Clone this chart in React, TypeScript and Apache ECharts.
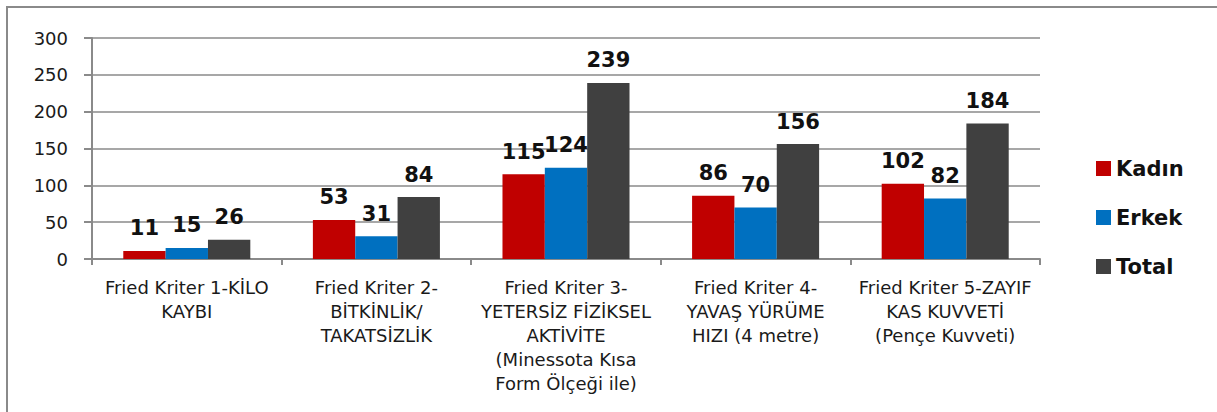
import React, { useEffect, useRef } from "react";
import * as echarts from "echarts";

const categories = [
  "Fried Kriter 1-KİLO\nKAYBI",
  "Fried Kriter 2-\nBİTKİNLİK/\nTAKATSİZLİK",
  "Fried Kriter 3-\nYETERSİZ FİZİKSEL\nAKTİVİTE\n(Minessota Kısa\nForm Ölçeği ile)",
  "Fried Kriter 4-\nYAVAŞ YÜRÜME\nHIZI (4 metre)",
  "Fried Kriter 5-ZAYIF\nKAS KUVVETİ\n(Pençe Kuvveti)",
];
const kadin = [11, 53, 115, 86, 102];
const erkek = [15, 31, 124, 70, 82];
const total = [26, 84, 239, 156, 184];
const seriesNames = ["Kadın", "Erkek", "Total"];
const colors = ["#C00000", "#0070C0", "#404040"];

export default function App() {
  const ref = useRef<HTMLDivElement>(null);
  useEffect(() => {
    if (!ref.current) return;
    const chart = echarts.init(ref.current, null, { renderer: "svg" });
    const font = "DejaVu Sans";
    const labelStyle = {
      show: true,
      position: "top" as const,
      distance: 12,
      fontFamily: font,
      fontWeight: "bold" as const,
      fontSize: 21,
      color: "#111",
    };
    const data = [kadin, erkek, total];
    chart.setOption({
      animation: false,
      backgroundColor: "#fff",
      graphic: [
        {
          type: "rect",
          shape: { x: 7, y: 7, width: 1230, height: 430 },
          style: { fill: "none", stroke: "#8a8a8a", lineWidth: 2 },
          silent: true,
        },
      ],
      grid: { left: 92, right: 177, top: 38, bottom: 153, containLabel: false },
      legend: {
        orient: "vertical",
        left: 1091,
        top: 153,
        itemWidth: 15,
        itemHeight: 15,
        itemGap: 28,
        icon: "rect",
        data: seriesNames,
        textStyle: {
          fontFamily: font,
          fontWeight: "bold",
          fontSize: 21,
          lineHeight: 21,
          color: "#111",
        },
      },
      xAxis: {
        type: "category",
        data: categories,
        axisLine: { lineStyle: { color: "#8a8a8a", width: 2 } },
        axisTick: { show: true, length: 6, lineStyle: { color: "#8a8a8a", width: 2 } },
        axisLabel: {
          interval: 0,
          margin: 16,
          fontFamily: font,
          fontSize: 18,
          lineHeight: 24,
          color: "#1a1a1a",
          align: "center",
        },
      },
      yAxis: {
        type: "value",
        min: 0,
        max: 300,
        interval: 50,
        axisLine: { show: true, lineStyle: { color: "#8a8a8a", width: 2 } },
        axisTick: { show: true, length: 8, lineStyle: { color: "#8a8a8a", width: 2 } },
        splitLine: { lineStyle: { color: "#8a8a8a", width: 1.5 } },
        axisLabel: {
          margin: 24,
          fontFamily: font,
          fontSize: 18,
          color: "#1a1a1a",
        },
      },
      series: seriesNames.map((name, i) => ({
        name,
        type: "bar",
        data: data[i],
        barGap: "0%",
        barCategoryGap: "33%",
        itemStyle: { color: colors[i] },
        label: labelStyle,
      })),
    });
    return () => chart.dispose();
  }, []);
  return (
    <div
      ref={ref}
      style={{ position: "absolute", left: 0, top: 0, width: 1217, height: 412 }}
    />
  );
}
